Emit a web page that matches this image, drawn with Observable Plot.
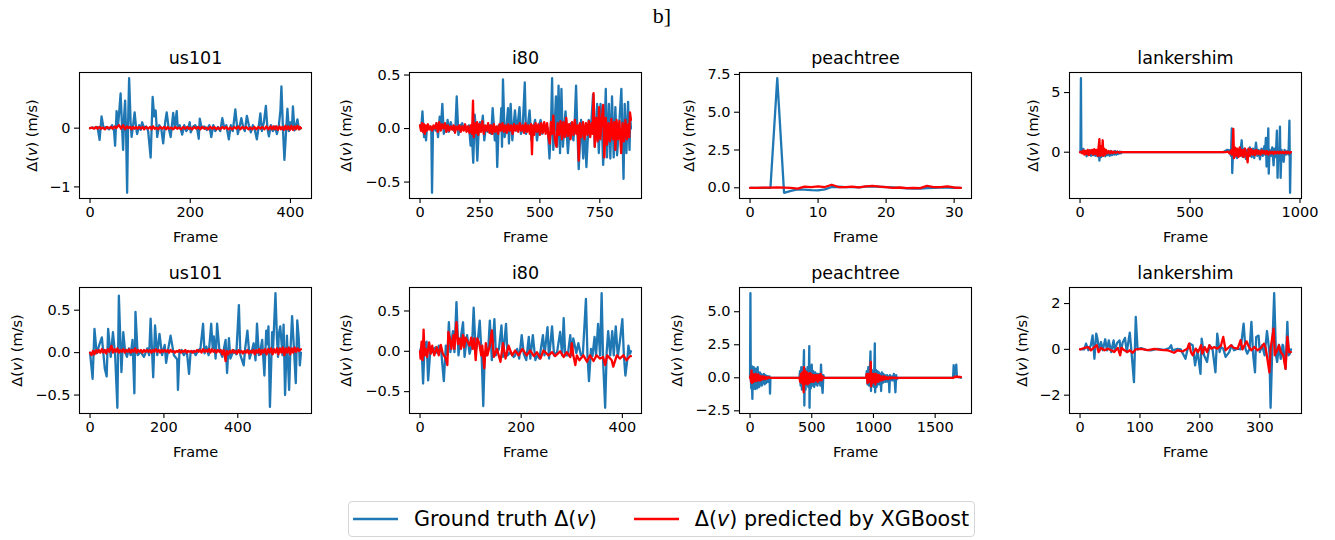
<!DOCTYPE html>
<html>
<head>
<meta charset="utf-8">
<script src="https://cdn.jsdelivr.net/npm/d3@7"></script>
<script src="https://cdn.jsdelivr.net/npm/@observablehq/plot@0.6"></script>
<style>
  html, body { margin: 0; padding: 0; background: #fff; }
  #fig { position: relative; width: 1335px; height: 540px; font-family: "DejaVu Sans", sans-serif; overflow: hidden; }
  .panel { position: absolute; }
  #suptitle { position: absolute; left: 0; width: 1324px; top: 3px; text-align: center; font-family: "Liberation Serif", serif; font-size: 22px; color: #000; }
  #legend { position: absolute; left: 348px; top: 501px; width: 627px; height: 36px; border: 1px solid #d6d6d6; border-radius: 4px; box-sizing: border-box; display: flex; align-items: center; font-size: 20.7px; color: #000; white-space: nowrap; }
  #legend .item { display: flex; align-items: center; flex-shrink: 0; white-space: nowrap; }
  #legend svg { margin: 0 16px 0 4px; flex-shrink: 0; }
</style>
</head>
<body>
<div id="fig">
  <div id="suptitle">b]</div>
  <div id="legend">
    <div class="item"><svg width="45" height="6"><line x1="0" x2="45" y1="3" y2="3" stroke="#1f77b4" stroke-width="2.6"/></svg><span>Ground truth Δ(<i>v</i>)</span></div>
    <div class="item" style="margin-left:33px"><svg width="45" height="6"><line x1="0" x2="45" y1="3" y2="3" stroke="#ff0000" stroke-width="2.6"/></svg><span>Δ(<i>v</i>) predicted by XGBoost</span></div>
  </div>
</div>
<script>
// ---------- data: [frame, Δ(v) m/s] ----------
const titles = ["us101", "i80", "peachtree", "lankershim", "us101", "i80", "peachtree", "lankershim"];

const gt_us101_a = [[0,0],[5,0.01],[10,0],[15,0.02],[19,-0.2],[23,0.2],[27,0.0],[32,0.02],[38,-0.02],[44,0.05],[48,-0.05],[50,-0.3],[53,0.29],[56,0.05],[58,0.25],[61,0.59],[64,0.0],[66,-0.37],[68,0.2],[70,0.47],[72,-0.1],[74,-1.1],[76,0.1],[78,0.85],[81,0.1],[83,-0.15],[86,0.05],[89,0.27],[92,0.0],[94,-0.1],[98,0.05],[101,-0.03],[104,0.1],[108,0.0],[112,0.03],[116,-0.05],[121,-0.5],[125,0.53],[128,0.2],[131,0.3],[134,-0.15],[138,0.05],[142,0.0],[146,-0.26],[150,0.1],[153,0.27],[157,0.0],[161,-0.15],[166,0.26],[169,0.0],[173,0.29],[175,0.0],[179,0.05],[184,-0.11],[188,0.05],[192,-0.05],[196,0.0],[199,0.1],[201,-0.07],[205,0.02],[210,0.05],[214,-0.02],[217,-0.18],[219,0.16],[223,0.0],[228,0.03],[233,-0.03],[238,0.05],[242,-0.15],[246,0.05],[250,-0.05],[255,0.02],[260,-0.05],[264,0.17],[268,0.0],[272,0.05],[277,-0.19],[281,0.05],[285,-0.05],[290,0.32],[295,-0.1],[299,0.05],[302,0.17],[306,0.0],[309,-0.05],[313,0.21],[317,0.05],[321,-0.07],[325,0.05],[329,-0.03],[333,-0.19],[337,0.05],[340,0.25],[343,-0.05],[347,0.1],[351,0.38],[354,0.0],[357,-0.14],[361,0.05],[365,-0.05],[369,0.03],[373,-0.1],[377,0.05],[380,0.3],[382,0.71],[385,0.0],[388,-0.54],[391,-0.1],[394,0.33],[397,-0.05],[400,0.1],[403,0.0],[405,0.37],[408,-0.04],[411,0.05],[414,0.15],[417,-0.02],[421,0.0]];
const pr_us101_a = [[0,0],[4,0.01],[8,-0.01],[12,0.02],[15,-0.01],[19,0.02],[22,-0.01],[26,0.01],[30,-0.02],[34,0.02],[38,0.0],[42,0.02],[45,-0.01],[49,0.03],[52,0.0],[55,0.03],[58,0.05],[62,-0.01],[66,0.05],[70,-0.02],[74,0.03],[77,0.0],[80,0.02],[83,-0.02],[86,0.02],[89,-0.01],[92,0.02],[95,-0.01],[98,0.02],[102,-0.01],[105,0.02],[108,-0.02],[112,0.02],[116,-0.01],[120,0.02],[123,-0.02],[126,0.03],[129,-0.01],[132,0.01],[136,-0.02],[140,0.02],[144,-0.01],[148,0.02],[152,-0.02],[155,0.02],[158,-0.01],[162,0.01],[166,-0.02],[170,0.02],[174,-0.01],[178,0.01],[182,-0.02],[186,0.02],[190,-0.01],[194,0.02],[197,-0.01],[200,0.01],[204,-0.02],[208,0.02],[212,-0.01],[216,0.02],[220,-0.02],[224,0.02],[228,-0.01],[232,0.01],[236,-0.02],[240,0.02],[244,-0.01],[248,0.02],[252,-0.02],[256,0.01],[260,-0.02],[264,0.02],[268,-0.01],[272,0.02],[276,-0.02],[280,0.01],[284,-0.02],[288,0.02],[292,-0.01],[296,0.03],[300,-0.02],[304,0.02],[308,-0.01],[312,0.02],[316,-0.02],[320,0.01],[324,-0.02],[328,0.02],[332,-0.02],[336,0.02],[340,-0.01],[344,0.02],[348,-0.02],[352,0.03],[356,-0.02],[360,0.03],[363,-0.02],[366,0.03],[369,-0.02],[372,0.03],[375,-0.03],[378,0.03],[381,-0.02],[384,0.02],[387,-0.03],[390,0.04],[393,-0.02],[396,0.03],[399,-0.03],[402,0.04],[405,-0.03],[408,0.03],[411,-0.02],[414,0.04],[417,-0.02],[419,0.02],[421,0.0]];

const gt_i80_a = [[0,0.03],[5,0.0],[10,0.16],[14,0.0],[17,-0.08],[21,0.02],[25,-0.11],[29,0.02],[35,0.0],[42,0.02],[47,0.0],[50,-0.6],[54,0.0],[60,0.02],[65,-0.02],[69,0.05],[75,-0.08],[82,0.11],[87,0.0],[93,0.23],[99,-0.05],[105,0.02],[110,-0.03],[115,0.08],[120,-0.03],[128,0.06],[135,0.0],[142,-0.02],[148,0.03],[153,0.3],[160,-0.06],[167,0.02],[176,0.05],[183,-0.01],[190,0.02],[197,-0.02],[204,0.03],[211,-0.16],[215,0.0],[222,-0.32],[228,0.13],[233,0.0],[239,-0.3],[245,0.0],[250,0.06],[256,0.0],[262,0.12],[268,-0.11],[275,0.02],[283,-0.03],[290,0.03],[297,-0.05],[303,0.19],[312,-0.11],[318,0.0],[322,-0.36],[328,0.03],[335,0.02],[339,0.19],[342,-0.17],[346,0.46],[353,-0.08],[360,0.0],[367,0.19],[371,-0.14],[378,0.23],[385,-0.11],[390,0.02],[396,0.17],[403,-0.02],[408,0.05],[415,0.2],[421,-0.05],[428,0.0],[437,0.43],[442,-0.05],[450,0.03],[457,0.17],[465,-0.11],[472,0.0],[480,0.08],[488,-0.11],[496,0.03],[503,0.08],[510,-0.05],[518,0.0],[527,0.03],[533,0.0],[540,-0.28],[546,0.0],[551,0.47],[556,-0.2],[562,0.05],[567,0.3],[572,-0.17],[578,0.4],[584,-0.23],[590,0.37],[596,-0.17],[602,0.02],[607,0.16],[617,-0.23],[624,0.0],[630,0.05],[640,-0.11],[645,0.05],[651,0.4],[656,0.0],[662,-0.38],[672,0.08],[681,-0.28],[688,0.0],[694,-0.36],[704,0.08],[713,0.0],[722,0.32],[729,-0.17],[739,0.23],[746,-0.23],[753,0.23],[759,0.0],[764,-0.34],[770,0.0],[775,0.37],[780,-0.27],[788,0.23],[794,-0.28],[801,0.3],[808,-0.27],[815,0.2],[822,-0.25],[830,0.0],[840,0.37],[849,-0.47],[854,0.23],[861,-0.23],[868,0.25],[874,-0.2],[877,0.1],[880,0.0]];
const pr_i80_a = [[0,0.03],[4,-0.02],[8,0.05],[12,-0.03],[16,0.04],[20,-0.05],[24,0.03],[28,-0.02],[33,0.04],[38,-0.01],[44,0.02],[50,-0.02],[56,0.03],[62,0.0],[68,0.05],[74,-0.03],[80,0.06],[86,-0.02],[92,0.04],[98,0.0],[104,0.05],[110,-0.03],[116,0.03],[122,-0.02],[128,0.02],[134,-0.01],[140,0.03],[146,-0.04],[152,0.02],[158,-0.01],[164,0.03],[170,-0.03],[176,0.02],[182,-0.02],[188,0.04],[194,-0.03],[200,0.02],[206,-0.04],[212,0.03],[217,-0.05],[221,0.26],[224,-0.08],[228,0.05],[233,-0.04],[238,0.06],[243,-0.06],[248,0.04],[254,-0.03],[260,0.07],[266,-0.05],[272,0.03],[278,-0.02],[284,0.05],[290,-0.04],[296,0.03],[302,-0.05],[308,0.04],[314,-0.03],[320,0.02],[326,-0.05],[332,0.04],[338,-0.02],[344,0.05],[350,-0.03],[356,0.03],[362,-0.04],[368,0.04],[374,-0.02],[380,0.03],[386,-0.05],[392,0.04],[398,-0.02],[404,0.03],[410,-0.03],[416,0.05],[422,-0.02],[428,0.03],[434,-0.04],[440,0.05],[446,-0.03],[452,0.03],[458,-0.05],[463,0.04],[467,-0.24],[471,0.03],[476,-0.06],[482,0.05],[488,-0.03],[494,0.04],[500,-0.06],[506,0.05],[512,-0.04],[518,0.06],[524,-0.05],[530,0.05],[536,-0.08],[541,-0.14],[546,0.06],[551,-0.05],[556,0.12],[562,-0.1],[569,-0.17],[574,0.05],[580,-0.06],[586,0.07],[592,-0.1],[598,0.06],[604,-0.08],[610,0.1],[616,-0.07],[622,0.04],[628,-0.1],[634,0.06],[640,-0.06],[646,0.08],[652,-0.05],[658,0.03],[662,-0.3],[667,0.05],[673,-0.08],[680,0.06],[686,-0.1],[692,0.05],[698,-0.06],[704,0.07],[710,-0.08],[716,0.05],[720,-0.05],[724,0.33],[729,-0.17],[735,0.1],[741,-0.12],[747,0.2],[752,-0.1],[758,0.08],[764,0.22],[769,-0.27],[775,0.1],[780,-0.15],[786,0.05],[792,-0.12],[798,0.09],[804,-0.1],[810,0.06],[815,-0.2],[820,0.08],[826,-0.1],[832,0.07],[839,-0.23],[845,0.05],[851,-0.12],[857,0.08],[863,-0.1],[869,0.04],[873,-0.08],[876,0.15],[880,0.08]];

const gt_peach_a = [[0,0],[1,0],[2,0],[3,0],[4,7.25],[5,-0.33],[6,-0.2],[7,-0.1],[8,-0.12],[9,-0.15],[10,-0.17],[11,-0.1],[12,0.05],[13,0.07],[14,0.05],[15,0.05],[16,0.03],[17,0.08],[18,0.1],[19,0.07],[20,0.05],[21,0.03],[22,0.0],[23,-0.03],[24,-0.05],[25,-0.05],[26,-0.02],[27,0.0],[28,0.02],[29,0.02],[30,0.0],[31,0.0]];
const pr_peach_a = [[0,0],[1,0],[2,0.01],[3,0.01],[4,0.02],[5,0.01],[6,0.0],[7,-0.05],[8,0.08],[9,0.05],[10,0.1],[11,0.05],[12,0.2],[13,0.05],[14,0.05],[15,0.08],[16,0.03],[17,0.1],[18,0.12],[19,0.08],[20,0.05],[21,0.0],[22,0.02],[23,-0.02],[24,0.0],[25,-0.02],[26,0.12],[27,0.05],[28,0.05],[29,0.1],[30,0.02],[31,0.0]];

const gt_lank_a = [[0,0],[2,0],[4,6.2],[6,0],[10,0.05],[15,0.28],[20,-0.1],[25,0.1],[30,-0.34],[35,0.05],[40,-0.2],[45,0.15],[50,-0.3],[55,0.05],[60,-0.25],[65,0.2],[70,-0.3],[75,0.1],[80,-0.35],[85,0.15],[88,-0.7],[92,0.2],[96,-0.4],[100,0.1],[105,-0.3],[110,0.15],[115,-0.35],[120,0.1],[125,-0.25],[130,0.05],[135,-0.3],[140,0.1],[145,-0.25],[150,0.05],[155,-0.2],[160,0.1],[165,-0.2],[170,0.05],[175,-0.15],[180,0.05],[186,-0.1],[190,0],[650,0],[660,0.1],[670,0.2],[680,0.15],[686,-0.3],[690,2.0],[692,-1.75],[696,0.3],[702,-0.4],[708,0.3],[714,-0.5],[720,0.2],[727,-0.3],[735,1.0],[740,-0.4],[748,0.3],[754,-0.55],[760,0.2],[766,-0.3],[772,0.4],[780,-0.4],[786,0.3],[792,-0.5],[800,0.8],[806,-0.3],[812,0.2],[818,-0.6],[825,0.3],[831,-0.3],[838,0.5],[841,-0.2],[845,1.2],[848,-1.2],[853,0.2],[856,2.0],[858,-1.8],[862,0.2],[868,-0.3],[874,0.4],[880,-1.1],[884,0.3],[890,-0.4],[895,1.8],[898,-2.15],[902,0.2],[906,-0.3],[909,2.15],[912,-2.15],[916,0.2],[920,-0.2],[926,-0.8],[930,0.2],[936,-0.2],[942,0.1],[948,-0.2],[952,2.65],[955,-3.4],[958,0],[959,0]];
const pr_lank_a = [[0,0],[5,0.05],[10,-0.1],[15,0.15],[20,-0.2],[25,0.1],[30,-0.15],[35,0.2],[40,-0.25],[45,0.15],[50,-0.1],[55,0.2],[60,-0.2],[65,0.25],[70,-0.15],[75,0.2],[80,-0.3],[85,0.5],[88,1.1],[91,-0.3],[95,0.5],[99,-0.25],[103,1.0],[106,-0.3],[110,0.3],[114,-0.2],[118,0.2],[124,-0.1],[130,0.1],[136,-0.1],[142,0.08],[148,-0.08],[155,0.05],[162,-0.06],[170,0.05],[178,-0.05],[186,0.02],[190,0],[660,0],[672,0.05],[680,-0.1],[686,0.15],[690,-0.2],[694,0.3],[697,1.95],[700,-0.5],[704,0.4],[708,-0.3],[714,0.3],[720,-0.4],[726,0.4],[732,-0.3],[738,0.2],[744,-0.4],[750,0.3],[756,-0.2],[762,-0.85],[766,0.3],[772,-0.3],[778,0.25],[784,-0.2],[790,0.15],[796,-0.25],[802,0.2],[808,-0.15],[814,0.1],[820,-0.2],[826,0.15],[832,-0.1],[838,0.1],[844,-0.15],[850,0.1],[856,-0.2],[862,0.05],[868,-0.1],[874,0.05],[880,-0.15],[886,0.05],[892,-0.1],[898,0.05],[904,-0.1],[910,0.05],[916,-0.08],[922,0.04],[928,-0.1],[934,0.05],[940,-0.08],[946,0.04],[952,-0.1],[956,0],[959,0]];

const gt_us101_b = [[0,0],[7,-0.31],[12,0.28],[18,-0.01],[25,0.09],[32,0.18],[40,-0.19],[45,-0.28],[49,0.28],[56,-0.05],[62,0.24],[68,-0.03],[74,-0.65],[78,0.67],[85,-0.23],[90,0.24],[95,0.01],[100,-0.05],[105,0.05],[110,-0.03],[115,0.15],[120,-0.48],[123,0.48],[129,-0.03],[137,0.01],[146,-0.05],[155,0.05],[160,-0.03],[164,0.4],[171,-0.29],[176,0.32],[182,-0.03],[188,0.22],[195,-0.03],[202,0.09],[206,-0.12],[212,0.05],[218,0.2],[227,-0.03],[236,-0.08],[238,-0.44],[242,0.01],[248,0.03],[254,-0.03],[262,0.02],[268,-0.25],[272,-0.01],[280,0.02],[286,-0.03],[292,0.02],[299,0.05],[306,0.34],[310,-0.01],[315,0.07],[321,-0.03],[328,0.34],[332,0.05],[335,0.19],[340,-0.07],[344,0.34],[350,0.04],[358,-0.05],[367,0.15],[371,-0.24],[376,0.17],[380,-0.07],[389,0.03],[396,-0.02],[403,0.56],[407,-0.03],[416,-0.15],[420,0.05],[426,0.26],[432,-0.07],[438,0.02],[443,0.11],[448,-0.09],[452,0.34],[457,-0.03],[462,0.05],[466,0.15],[472,-0.27],[477,0.26],[480,0.1],[483,0.31],[487,-0.64],[493,0.24],[495,-0.01],[502,0.70],[506,0.17],[509,-0.05],[511,0.22],[515,0.31],[521,-0.03],[524,0.33],[528,-0.5],[533,0.2],[539,-0.44],[542,-0.03],[547,0.43],[551,0.13],[557,-0.36],[561,0.38],[565,0.17],[568,-0.15],[571,0.0]];
const pr_us101_b = [[0,0],[4,-0.03],[8,0.02],[12,-0.02],[16,0.03],[20,0.0],[24,0.03],[28,0.0],[32,0.04],[36,0.0],[40,0.03],[44,-0.01],[48,0.04],[52,0.01],[55,0.05],[58,0.08],[62,0.0],[66,0.04],[70,0.01],[74,0.05],[78,0.0],[82,0.03],[86,0.01],[90,0.04],[94,0.0],[98,0.03],[102,0.01],[106,0.04],[110,0.0],[114,0.03],[118,0.01],[122,0.05],[126,0.0],[130,0.03],[134,0.01],[138,0.03],[142,0.0],[146,0.03],[150,0.01],[154,0.03],[158,0.01],[162,0.03],[166,0.0],[170,0.03],[174,0.01],[178,0.04],[182,0.01],[186,0.03],[190,0.0],[194,0.03],[198,0.01],[202,0.03],[206,0.01],[210,0.03],[214,0.0],[218,0.03],[222,0.01],[226,0.02],[230,0.0],[234,0.02],[238,0.01],[242,0.03],[246,0.0],[250,0.02],[254,0.01],[258,0.03],[262,0.0],[266,0.02],[270,0.01],[274,0.02],[278,0.0],[282,0.02],[286,0.01],[290,0.03],[294,0.01],[298,0.03],[302,0.0],[306,0.04],[310,0.01],[314,0.03],[318,0.01],[322,0.04],[326,0.0],[330,0.04],[334,0.01],[338,0.03],[342,0.0],[346,0.03],[350,0.01],[354,0.03],[358,-0.02],[362,0.03],[365,-0.05],[367,-0.1],[370,0.02],[374,-0.02],[378,0.02],[382,0.0],[386,0.03],[390,0.0],[394,0.02],[398,-0.01],[402,0.03],[406,0.0],[410,0.02],[414,-0.01],[418,0.02],[422,0.0],[426,0.03],[430,-0.01],[434,0.02],[438,0.0],[442,0.03],[446,-0.02],[450,0.03],[454,0.0],[458,0.04],[462,-0.02],[466,0.03],[470,0.0],[474,0.04],[478,-0.02],[482,0.04],[486,0.0],[490,0.05],[494,-0.02],[498,0.04],[502,0.0],[506,0.05],[510,-0.02],[514,0.05],[518,0.0],[522,0.06],[526,-0.03],[530,0.05],[534,0.0],[538,0.06],[542,-0.02],[546,0.05],[550,0.0],[554,0.06],[558,0.01],[562,0.05],[566,0.02],[571,0.04]];

const gt_i80_b = [[0,0],[3,0.07],[6,-0.4],[9,0.07],[13,0.12],[16,-0.36],[20,-0.01],[24,-0.01],[28,0.03],[31,0.05],[34,-0.02],[37,0.07],[42,-0.01],[47,-0.37],[51,0.07],[54,-0.05],[57,0.36],[60,-0.01],[65,0.25],[68,-0.01],[72,0.61],[76,-0.05],[80,0.14],[85,0.36],[88,-0.07],[93,0.2],[98,-0.03],[103,0.1],[106,0.54],[110,-0.01],[114,0.12],[118,0.38],[122,-0.09],[125,-0.68],[128,-0.01],[131,-0.05],[135,0.05],[138,0.38],[142,-0.11],[147,0.4],[150,-0.05],[156,0.03],[161,0.32],[164,-0.07],[170,0.34],[173,-0.05],[179,-0.01],[185,-0.07],[188,-0.05],[192,0.03],[196,-0.09],[201,0.2],[205,-0.03],[210,-0.11],[215,0.18],[218,-0.09],[223,0.2],[228,-0.11],[231,-0.05],[236,-0.09],[243,0.2],[246,-0.05],[252,0.3],[255,-0.09],[261,0.31],[265,-0.05],[271,-0.01],[277,0.24],[281,-0.05],[284,0.41],[287,-0.05],[292,-0.05],[297,0.2],[300,-0.05],[303,0.16],[309,-0.02],[313,0.1],[318,-0.05],[322,-0.03],[328,0.65],[331,-0.05],[334,-0.37],[338,0.03],[341,-0.06],[345,0.18],[348,-0.05],[352,0.34],[356,-0.05],[359,0.72],[362,-0.13],[366,-0.70],[369,-0.01],[372,0.25],[376,-0.05],[380,0.25],[383,-0.05],[387,0.31],[391,-0.07],[395,0.12],[400,0.4],[403,-0.05],[406,-0.3],[410,-0.09],[412,0.07],[415,-0.03],[417,0.0]];
const pr_i80_b = [[0,0],[1,-0.09],[3,0.12],[5,-0.11],[7,0.27],[9,-0.05],[11,0.03],[14,-0.07],[18,0.11],[21,-0.03],[24,0.07],[28,-0.05],[33,0.05],[37,-0.05],[41,0.08],[45,-0.03],[51,-0.09],[54,-0.17],[56,0.24],[59,0.16],[62,0.03],[66,0.2],[68,0.03],[72,0.36],[75,0.09],[79,0.16],[81,0.03],[85,0.2],[87,0.05],[90,0.17],[95,0.11],[98,0.07],[101,0.17],[104,0.03],[107,0.16],[110,-0.11],[113,0.16],[117,0.1],[121,-0.05],[123,0.07],[127,-0.21],[130,0.1],[133,-0.05],[138,0.07],[142,0.26],[146,-0.07],[152,0.03],[159,-0.13],[164,0.1],[169,-0.09],[175,0.07],[182,-0.05],[188,0.01],[195,-0.05],[202,0.03],[211,-0.05],[218,0.01],[225,-0.06],[231,-0.01],[238,-0.09],[244,0.01],[254,-0.05],[261,-0.01],[267,-0.06],[277,0.0],[284,-0.07],[290,-0.01],[297,-0.07],[300,0.1],[303,-0.05],[307,-0.17],[310,-0.05],[315,-0.11],[323,-0.05],[330,-0.13],[336,-0.05],[343,-0.12],[349,-0.05],[356,-0.09],[362,-0.07],[366,-0.17],[370,-0.05],[379,-0.11],[382,-0.19],[389,-0.05],[395,-0.09],[402,-0.05],[408,-0.11],[415,-0.06],[417,-0.06]];

const gt_peach_b = [[0,0],[3,6.4],[6,0],[10,-0.8],[13,0.9],[16,-0.5],[19,-1.6],[22,0.5],[26,-0.85],[30,0.8],[34,-0.6],[38,0.3],[42,-0.85],[46,0.7],[50,-0.3],[54,0.5],[58,-0.8],[62,0.8],[66,-0.5],[70,0.3],[75,-0.7],[80,0.4],[85,-0.5],[90,0.3],[95,-0.6],[100,0.2],[106,-0.4],[112,0.3],[118,-0.5],[124,0.2],[130,-0.4],[136,0.15],[142,-0.3],[148,0.1],[154,-0.3],[158,0.1],[162,-1.2],[165,0],[400,0],[405,0.5],[410,-0.6],[415,0.8],[420,-0.9],[425,0.6],[430,-0.5],[437,2.1],[440,-2.1],[445,0.7],[450,-0.9],[455,0.5],[460,-0.5],[466,0.8],[472,-0.7],[477,0.6],[480,2.4],[482,-2.27],[486,0.3],[492,-0.8],[500,1.0],[506,-0.6],[512,0.5],[520,-0.7],[528,0.4],[534,-0.5],[540,0.3],[546,-0.6],[552,0.3],[560,-0.4],[566,0.3],[570,-0.6],[575,1.0],[580,-0.3],[588,-1.15],[594,0.2],[600,0],[940,0],[946,0.5],[952,-0.5],[958,0.8],[964,-0.6],[970,0.4],[976,2.0],[980,-1.0],[986,0.6],[992,-0.6],[998,0.5],[1004,-0.7],[1011,2.6],[1014,-1.1],[1020,0.6],[1026,-0.7],[1032,0.5],[1038,-0.5],[1044,0.4],[1050,-0.5],[1056,0.3],[1062,-1.0],[1068,0.4],[1074,-0.4],[1080,0.3],[1086,-0.3],[1092,0.2],[1100,-0.3],[1110,0.2],[1118,-0.3],[1124,0.1],[1129,-1.1],[1134,0.2],[1142,-0.2],[1150,0.1],[1158,-0.2],[1165,0.3],[1172,-0.2],[1178,-1.1],[1184,0.2],[1190,-0.1],[1200,0],[1645,0],[1650,0.95],[1655,0.2],[1660,0.6],[1665,0.3],[1671,1.0],[1676,0.1],[1685,0.05],[1695,0.05],[1709,0]];
const pr_peach_b = [[0,0],[5,0.2],[8,-0.3],[12,0.55],[15,-0.4],[19,0.3],[23,-0.2],[27,0.25],[31,-0.3],[35,0.2],[40,-0.2],[45,0.3],[50,-0.25],[55,0.2],[60,-0.2],[65,0.25],[70,-0.2],[76,0.15],[82,-0.2],[88,0.1],[94,-0.15],[100,0.1],[108,-0.1],[116,0.1],[124,-0.1],[132,0.05],[140,-0.05],[150,0.05],[160,0],[400,0],[406,-0.3],[412,0.3],[418,-0.4],[424,0.4],[430,-0.3],[434,-1.1],[437,0.8],[442,-0.5],[448,0.5],[454,-0.4],[460,0.4],[466,-0.5],[472,0.3],[478,-0.4],[484,0.35],[490,-0.3],[496,0.3],[502,-0.3],[508,0.2],[516,-0.3],[524,0.2],[532,-0.2],[540,0.2],[548,-0.3],[556,0.2],[564,-0.2],[572,0.3],[580,-0.2],[588,0.1],[596,0],[940,0],[946,0.3],[952,-0.4],[958,0.3],[964,-0.3],[970,0.2],[975,-0.3],[978,1.2],[981,-0.65],[986,0.3],[992,-0.4],[998,0.3],[1004,-0.3],[1010,0.3],[1016,-0.5],[1022,0.3],[1028,-0.3],[1034,0.2],[1040,-0.3],[1046,0.2],[1052,-0.2],[1058,0.1],[1066,-0.2],[1074,0.1],[1082,-0.15],[1090,0.1],[1100,-0.1],[1110,0.05],[1120,-0.1],[1130,0.05],[1140,-0.05],[1150,0.03],[1160,-0.03],[1170,0.03],[1180,-0.05],[1190,0],[1650,0],[1660,0.1],[1670,0.05],[1680,0.1],[1690,0.05],[1700,0.08],[1709,0.05]];

const gt_lank_b = [[0,0],[7,0],[10,0.25],[14,-0.04],[18,0.18],[21,0.61],[24,-0.41],[27,0.69],[29,0.47],[32,-0.04],[35,0.32],[38,-0.04],[42,0.44],[45,-0.04],[48,0.39],[52,-0.12],[56,0.39],[58,-0.04],[62,0.29],[66,0.39],[68,-0.12],[71,0.29],[75,0.5],[78,-0.12],[83,0.73],[86,-0.15],[90,-1.43],[93,1.42],[96,0],[102,0.05],[110,-0.02],[118,-0.04],[129,0.02],[141,-0.02],[149,0.05],[152,0.18],[154,-0.04],[163,0.02],[168,0],[176,-0.41],[179,-0.04],[183,0.25],[188,0.18],[192,-0.7],[196,-0.04],[201,-1.07],[203,0.47],[207,-0.26],[212,-0.55],[216,0.18],[221,0.03],[226,-1.0],[229,0.69],[233,-0.12],[235,0.1],[239,0.03],[243,-0.33],[249,-0.12],[253,0.18],[257,-0.04],[263,0.03],[268,0],[273,1.12],[276,0.03],[279,-0.19],[283,0.03],[286,1.2],[289,-0.26],[292,-1.0],[294,0.54],[298,0.6],[300,-0.12],[304,0.18],[308,-0.26],[312,0.8],[316,-0.12],[318,-2.55],[321,0.18],[324,2.45],[327,-0.26],[329,-0.55],[332,0.2],[335,-0.41],[338,0.2],[339,0.17],[343,-0.85],[346,1.2],[348,-0.26],[350,-0.19],[352,0]];
const pr_lank_b = [[0,0],[7,0.06],[14,0.1],[18,-0.04],[24,0.1],[28,0.18],[31,-0.12],[35,0.06],[41,-0.04],[46,0.03],[52,-0.04],[57,-0.12],[63,0.06],[67,-0.26],[69,0.06],[74,-0.04],[79,-0.12],[83,-0.04],[88,-0.15],[93,0],[102,0.02],[113,-0.03],[124,0.02],[135,-0.02],[146,-0.04],[157,-0.15],[163,-0.04],[171,-0.09],[179,0.03],[182,0.25],[185,-0.12],[188,-0.26],[193,0.03],[197,-0.12],[202,0.18],[204,-0.19],[208,0.1],[212,-0.12],[216,0.18],[219,0.03],[224,0.1],[229,0.03],[235,0.15],[239,0.54],[243,-0.04],[252,0.18],[257,0.06],[263,0.03],[268,0.4],[271,0],[278,0.35],[282,0.1],[286,-0.04],[291,0.1],[296,-0.04],[302,0.06],[307,0.25],[310,0.03],[316,-1.0],[318,0.03],[323,0.9],[325,-0.26],[329,-0.04],[332,0.18],[335,-0.12],[339,-0.26],[343,-0.85],[346,0.55],[349,-0.12],[352,-0.12]];

// tick values per panel
const xTicks = [[0,200,400],[0,250,500,750],[0,10,20,30],[0,500,1000],[0,200,400],[0,200,400],[0,500,1000,1500],[0,100,200,300]];
const yTicks = [[-1,0],[-0.5,0,0.5],[0,2.5,5,7.5],[0,5],[-0.5,0,0.5],[-0.5,0,0.5],[-2.5,0,2.5,5],[-2,0,2]];
const yFormats = ["d", ".1f", ".1f", "d", ".1f", ".1f", ".1f", "d"];

const groundTruth = [gt_us101_a, gt_i80_a, gt_peach_a, gt_lank_a, gt_us101_b, gt_i80_b, gt_peach_b, gt_lank_b];
const predicted = [pr_us101_a, pr_i80_a, pr_peach_a, pr_lank_a, pr_us101_b, pr_i80_b, pr_peach_b, pr_lank_b];

// ---------- layout ----------
const frameLefts = [79, 409, 739, 1069];
const frameTops = [72, 287];
const FW = 232, FH = 126;
const M = {left: 80, right: 12, top: 32, bottom: 52};
const yLabelOffsets = [47, 63, 50, 36, 62, 63, 62, 47];

function pad(ext) { const r = ext[1] - ext[0]; return [ext[0] - 0.05 * r, ext[1] + 0.05 * r]; }

const fig = document.getElementById("fig");
for (let i = 0; i < 8; i++) {
  const gt = groundTruth[i], pr = predicted[i];
  const all = gt.concat(pr);
  const xDom = pad(d3.extent(all, d => d[0]));
  const yDom = pad(d3.extent(all, d => d[1]));
  const chart = Plot.plot({
    width: FW + M.left + M.right,
    height: FH + M.top + M.bottom,
    marginLeft: M.left, marginRight: M.right, marginTop: M.top, marginBottom: M.bottom,
    style: {fontFamily: "DejaVu Sans, sans-serif", fontSize: "14.5px", color: "#000", background: "transparent", overflow: "visible"},
    x: {domain: xDom},
    y: {domain: yDom},
    marks: [
      Plot.line(gt, {x: d => d[0], y: d => d[1], stroke: "#1f77b4", strokeWidth: 2.3, strokeLinejoin: "round"}),
      Plot.line(pr, {x: d => d[0], y: d => d[1], stroke: "#ff0000", strokeWidth: 2.3, strokeLinejoin: "round"}),
      Plot.frame({stroke: "#000", strokeWidth: 1.1}),
      Plot.axisX({ticks: xTicks[i], tickFormat: d3.format("d"), tickSize: 5, tickPadding: 3, strokeWidth: 1.1, label: null, fill: "#000", fontSize: 14.5}),
      Plot.axisY({ticks: yTicks[i], tickFormat: d3.format(yFormats[i]), tickSize: 5, tickPadding: 4, strokeWidth: 1.1, label: null, fill: "#000", fontSize: 14.5}),
      Plot.text([titles[i]], {text: d => d, frameAnchor: "top", dy: -14, lineAnchor: "middle", fontSize: 17.5, fill: "#000"}),
      Plot.text(["Frame"], {text: d => d, frameAnchor: "bottom", dy: 38.5, lineAnchor: "middle", fontSize: 14.5, fill: "#000"}),
      Plot.text(["Δ(v) (m/s)"], {text: d => d, frameAnchor: "left", dx: -yLabelOffsets[i], rotate: -90, lineAnchor: "middle", textAnchor: "middle", fontSize: 14.5, fill: "#000"})
    ]
  });
  // italicise the v in the y label
  chart.querySelectorAll("text").forEach(t => {
    if (t.textContent === "Δ(v) (m/s)") {
      t.textContent = "";
      const ns = "http://www.w3.org/2000/svg";
      const a = document.createElementNS(ns, "tspan"); a.textContent = "Δ(";
      const b = document.createElementNS(ns, "tspan"); b.textContent = "v"; b.setAttribute("font-style", "italic");
      const c = document.createElementNS(ns, "tspan"); c.textContent = ") (m/s)";
      t.append(a, b, c);
    }
  });
  const wrap = document.createElement("div");
  wrap.className = "panel";
  wrap.style.left = (frameLefts[i % 4] - M.left) + "px";
  wrap.style.top = (frameTops[Math.floor(i / 4)] - M.top) + "px";
  wrap.appendChild(chart);
  fig.appendChild(wrap);
}
</script>
</body>
</html>
